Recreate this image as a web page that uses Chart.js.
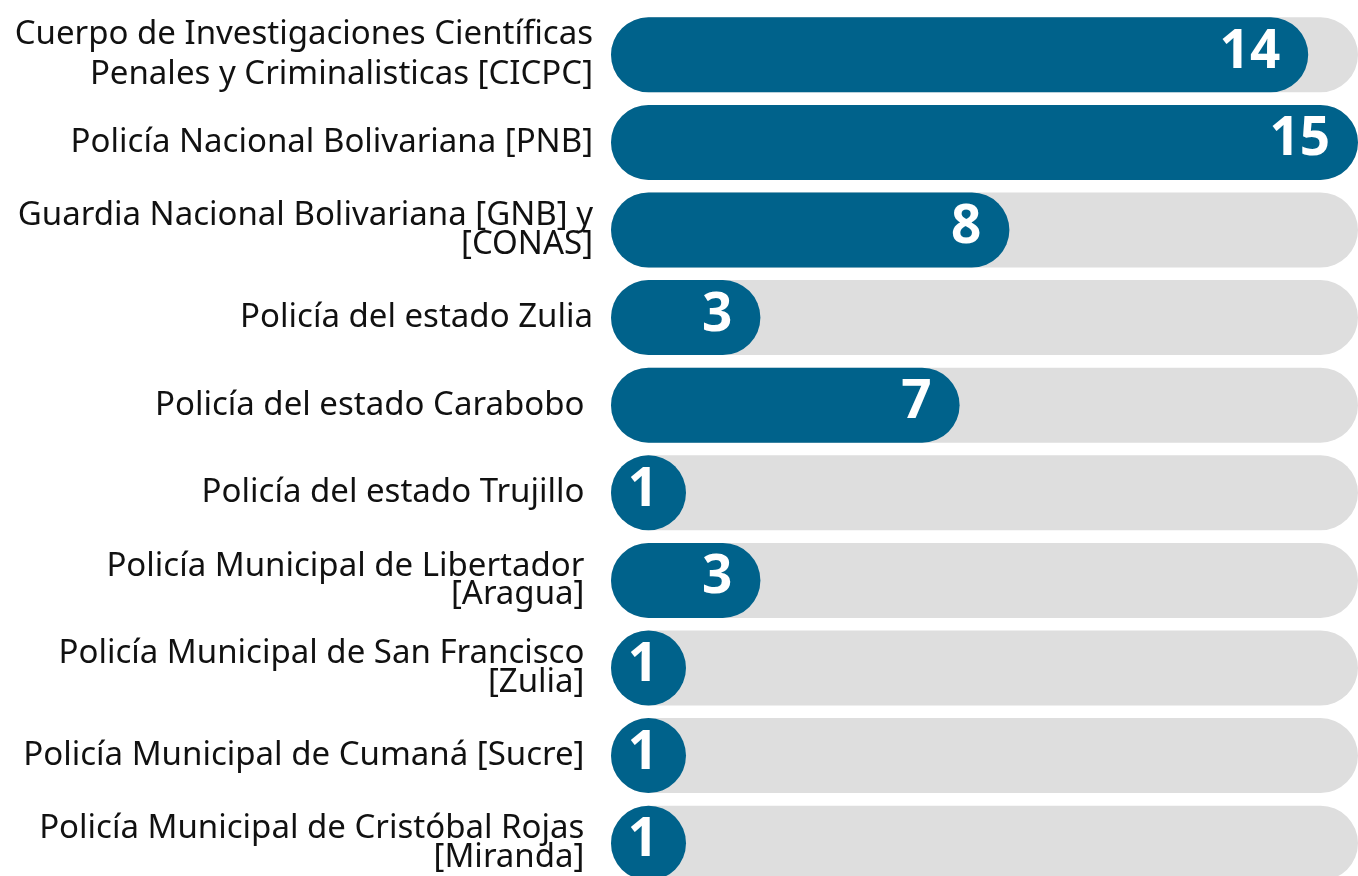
<!DOCTYPE html>
<html>
<head>
<meta charset="utf-8">
<script src="https://cdn.jsdelivr.net/npm/chart.js@4"></script>
<style>
  html, body { margin: 0; padding: 0; background: #fff; overflow: hidden; }
  #wrap { position: absolute; left: 0; top: 0; width: 1358px; height: 887px; }
</style>
</head>
<body>
<div id="wrap"><canvas id="chartCuerpos"></canvas></div>
<script>
// categories (trailing spaces kept as in the original labels)
var cuerpos = [
    ['Cuerpo de Investigaciones Científicas', 'Penales y Criminalisticas [CICPC]'],
    'Policía Nacional Bolivariana [PNB]',
    ['Guardia Nacional Bolivariana [GNB] y', '[CONAS]'],
    'Policía del estado Zulia',
    'Policía del estado Carabobo ',
    'Policía del estado Trujillo ',
    ['Policía Municipal de Libertador ', '[Aragua] '],
    ['Policía Municipal de San Francisco ', '[Zulia] '],
    'Policía Municipal de Cumaná [Sucre] ',
    ['Policía Municipal de Cristóbal Rojas ', '[Miranda] ']
];
var casos = [14, 15, 8, 3, 7, 1, 3, 1, 1, 1];
var maxCasos = 15;
var fondo = cuerpos.map(function() { return maxCasos; });

var azul = '#00628B';
var gris = '#DEDEDE';

// draw the numbers inside the blue bars
var valueLabels = {
    id: 'valueLabels',
    afterDatasetsDraw: function(chart) {
        var ctx = chart.ctx;
        var meta = chart.getDatasetMeta(0);
        ctx.save();
        ctx.font = 'bold 53px "Open Sans"';
        ctx.fillStyle = '#fff';
        ctx.textAlign = 'right';
        ctx.textBaseline = 'middle';
        meta.data.forEach(function(bar, i) {
            ctx.fillText(String(casos[i]), bar.x - 28, bar.y - 2);
        });
        ctx.restore();
    }
};

var ctx = document.getElementById('chartCuerpos');
var myChart = new Chart(ctx, {
    type: 'bar',
    data: {
        labels: cuerpos,
        datasets: [{
            label: 'Casos',
            data: casos,
            backgroundColor: azul,
            borderRadius: 40,
            borderSkipped: false,
            minBarLength: 75,
            grouped: false,
            order: 0
        }, {
            label: 'Fondo',
            data: fondo,
            backgroundColor: gris,
            borderRadius: 40,
            borderSkipped: false,
            grouped: false,
            order: 1
        }]
    },
    options: {
        indexAxis: 'y',
        responsive: true,
        maintainAspectRatio: false,
        animation: false,
        layout: { padding: { left: 0, right: 0, top: 11, bottom: 0 } },
        datasets: {
            bar: { categoryPercentage: 1, barPercentage: 0.856 }
        },
        plugins: {
            legend: { display: false },
            tooltip: { enabled: false }
        },
        scales: {
            x: {
                display: false,
                min: 0,
                max: maxCasos
            },
            y: {
                grid: { display: false, drawTicks: false },
                border: { display: false },
                afterFit: function(scale) {
                    scale.width = 611;
                    // labels may overflow the plot vertically, like the original
                    scale.paddingTop = 0;
                    scale.paddingBottom = 0;
                },
                ticks: {
                    padding: 18,
                    color: '#111',
                    font: function(c) {
                        return {
                            family: '"Noto Sans", sans-serif',
                            size: 33,
                            lineHeight: c.index === 0 ? 1.22 : 0.86
                        };
                    }
                }
            }
        }
    },
    plugins: [valueLabels]
});
</script>
</body>
</html>
